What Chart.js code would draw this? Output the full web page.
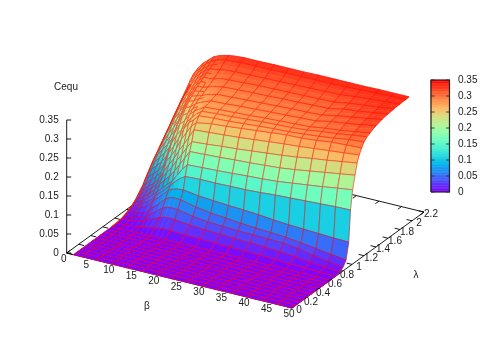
<!DOCTYPE html>
<html>
<head>
<meta charset="utf-8">
<title>Cequ</title>
<script src="https://cdn.jsdelivr.net/npm/chart.js@4"></script>
<style>
  html, body { margin: 0; padding: 0; background: #fff; }
  canvas { display: block; }
</style>
</head>
<body>
<canvas id="mycanvas" width="491" height="343"></canvas>
<script>
var betaTicks = [0, 5, 10, 15, 20, 25, 30, 35, 40, 45, 50];
var lambdaTicks = [0, 0.2, 0.4, 0.6, 0.8, 1, 1.2, 1.4, 1.6, 1.8, 2, 2.2];
var cTicks = [0, 0.05, 0.1, 0.15, 0.2, 0.25, 0.3, 0.35];

var betas = [1.5, 2.22, 3.33, 4.44, 5.56, 6.67, 7.78, 8.89, 10, 11.11, 12.22, 13.33,
  16.67, 20, 23.33, 26.67, 30, 33.33, 36.67, 40, 43.33, 46.67, 50];
var lambdas = [0, 0.064, 0.128, 0.192, 0.256, 0.32, 0.384, 0.448, 0.512, 0.576, 0.64,
  0.72, 0.8, 0.85, 0.9, 0.945, 0.975, 1.01, 1.05, 1.085, 1.12, 1.16, 1.2, 1.25, 1.3,
  1.35, 1.4, 1.45, 1.5, 1.55, 1.6, 1.65, 1.7, 1.75, 1.8, 1.85, 1.9, 1.95];

// every row starts with the flat part below lambda 0.72
var flat = [0, 0, 0, 0, 0, 0, 0, 0, 0, 0, 0];
var c1 = [...flat, .001,.003,.006,.01,.014,.017,.022,.028,.035,.042,.05,.062,.075,.088,.1,.11,.122,.133,.144,.155,.167,.178,.189,.199,.208,.217,.225];
var c2 = [...flat, .001,.003,.006,.011,.015,.019,.024,.031,.038,.046,.056,.069,.083,.097,.11,.122,.136,.15,.162,.174,.186,.198,.21,.222,.233,.245,.255];
var c3 = [...flat, .001,.004,.007,.013,.02,.026,.032,.04,.049,.058,.069,.081,.096,.112,.127,.142,.157,.172,.186,.2,.214,.227,.239,.25,.259,.268,.275];
var c4 = [...flat, .002,.005,.009,.016,.026,.034,.041,.05,.06,.068,.081,.094,.11,.127,.144,.16,.177,.192,.207,.221,.235,.247,.258,.267,.275,.283,.29];
var c5 = [...flat, .002,.007,.012,.02,.033,.043,.052,.062,.072,.083,.096,.11,.128,.146,.164,.182,.199,.215,.229,.242,.254,.264,.273,.281,.288,.295,.301];
var c6 = [...flat, .005,.013,.021,.033,.05,.058,.065,.08,.092,.106,.128,.145,.166,.186,.204,.219,.232,.244,.254,.263,.271,.278,.285,.292,.298,.305,.312];
var c7 = [...flat, .008,.02,.03,.043,.06,.07,.078,.094,.11,.127,.146,.166,.19,.212,.23,.244,.255,.263,.271,.278,.284,.29,.296,.301,.306,.312,.318];
var c8 = [...flat, .01,.025,.04,.056,.072,.082,.09,.108,.127,.146,.167,.19,.207,.225,.238,.25,.26,.267,.273,.278,.285,.29,.296,.302,.309,.316,.322];
var c9 = [...flat, .012,.03,.05,.068,.085,.095,.103,.125,.148,.17,.195,.217,.23,.244,.254,.261,.268,.271,.276,.282,.286,.292,.298,.304,.312,.319,.325];
var c10 = [...flat, .014,.034,.055,.075,.092,.108,.122,.145,.167,.19,.215,.237,.245,.257,.263,.268,.274,.277,.281,.287,.29,.296,.301,.307,.313,.319,.327];
var c11 = [...flat, .015,.035,.056,.076,.095,.12,.14,.165,.188,.212,.236,.248,.258,.265,.269,.273,.278,.28,.284,.289,.292,.298,.303,.308,.313,.32,.328];
var c12 = [...flat, .015,.034,.055,.075,.096,.128,.155,.185,.207,.234,.248,.262,.268,.273,.276,.278,.282,.284,.287,.292,.294,.299,.304,.309,.314,.321,.329];
var c13 = [...flat, .013,.03,.047,.066,.09,.13,.157,.187,.21,.237,.255,.265,.271,.276,.278,.28,.284,.286,.289,.294,.296,.301,.306,.31,.315,.322,.329];
var c14 = [...flat, .012,.027,.042,.06,.087,.13,.159,.189,.214,.24,.258,.267,.273,.278,.28,.283,.287,.288,.291,.296,.298,.303,.307,.311,.316,.322,.33];
var c15 = [...flat, .011,.025,.04,.056,.084,.131,.161,.192,.217,.243,.262,.27,.276,.28,.282,.285,.289,.29,.293,.297,.299,.304,.308,.312,.317,.323,.33];
var c16 = [...flat, .01,.023,.038,.052,.082,.132,.164,.194,.221,.247,.266,.273,.279,.283,.285,.287,.291,.292,.295,.299,.301,.305,.309,.313,.317,.323,.33];
var c17 = [...flat, .009,.022,.037,.049,.079,.134,.166,.197,.225,.251,.27,.276,.281,.285,.287,.289,.293,.294,.296,.3,.302,.306,.31,.314,.318,.324,.331];
var c18 = [...flat, .008,.02,.036,.047,.075,.137,.169,.2,.229,.255,.274,.278,.283,.287,.289,.291,.294,.295,.298,.302,.303,.307,.311,.315,.319,.324,.331];
var c19 = [...flat, .006,.018,.035,.044,.072,.139,.174,.205,.234,.258,.275,.281,.286,.289,.291,.293,.296,.297,.299,.303,.304,.308,.312,.316,.32,.325,.331];
var c20 = [...flat, .004,.014,.03,.039,.07,.141,.179,.211,.24,.262,.279,.285,.292,.295,.298,.301,.304,.305,.307,.311,.312,.315,.318,.321,.324,.327,.331];
var c21 = [...flat, .003,.01,.022,.034,.068,.143,.184,.217,.245,.266,.284,.29,.296,.299,.303,.306,.309,.311,.313,.315,.316,.319,.321,.324,.326,.328,.332];
var c22 = [...flat, .002,.006,.015,.028,.066,.145,.19,.223,.251,.27,.286,.296,.302,.305,.309,.312,.315,.317,.319,.321,.322,.324,.325,.327,.328,.33,.332];
var c23 = [...flat, .001,.003,.01,.023,.065,.146,.195,.229,.257,.274,.288,.299,.307,.311,.316,.319,.322,.324,.326,.327,.328,.329,.33,.33,.331,.331,.332];
var cequ = [c1, c2, c3, c4, c5, c6, c7, c8, c9, c10, c11, c12, c13, c14, c15, c16, c17, c18, c19, c20, c21, c22, c23];

// view of the box on the page
var originX = 66.7, originY = 253, zScale = 380;
var betaDx = 4.506, betaDy = 1.1, lambdaDx = 60, lambdaDy = -43.6;
var barLeft = 431, barRight = 449.5;

function proj(b, l, z) {
  return {
    x: originX + betaDx * b + lambdaDx * l,
    y: (z || 0) - (betaDy * b + lambdaDy * l) / zScale
  };
}

// gnuplot palette rgbformulae 33,13,10
function palette(v) {
  var t = Math.max(0, Math.min(1, v / 0.35));
  var r = Math.min(1, Math.abs(2 * t - 0.5));
  var g = Math.sin(Math.PI * t);
  var b = Math.cos(Math.PI * t / 2);
  return "rgb(" + Math.round(r * 255) + "," + Math.round(g * 255) + "," + Math.round(b * 255) + ")";
}

var meshColor = "rgba(255,0,0,0.62)";
var flatMeshColor = "rgba(255,0,40,0.85)";
var coarseLambda = [1.4, 1.5, 1.6, 1.7, 1.8, 1.9];

function inDensePatch(b, l) {
  return l >= 1.0 && b * l <= 14.6;
}
function betaLineOn(i, j) {
  if (i === 0 || i >= 11 || i % 3 === 2) return true;
  return inDensePatch(betas[i], lambdas[j]);
}
function lambdaLineOn(i, j) {
  var l = lambdas[j];
  if (l <= 1.3 || l === 1.95 || coarseLambda.indexOf(l) >= 0) return true;
  return inDensePatch(betas[i], l);
}

function corners(i, j) {
  return [
    proj(betas[i], lambdas[j], cequ[i][j]),
    proj(betas[i + 1], lambdas[j], cequ[i + 1][j]),
    proj(betas[i + 1], lambdas[j + 1], cequ[i + 1][j + 1]),
    proj(betas[i], lambdas[j + 1], cequ[i][j + 1]),
    proj(betas[i], lambdas[j], cequ[i][j])
  ];
}

function cellFill(i, j) {
  var mean = (cequ[i][j] + cequ[i + 1][j] + cequ[i][j + 1] + cequ[i + 1][j + 1]) / 4;
  var col = palette(mean);
  return {
    data: corners(i, j),
    showLine: true,
    fill: "shape",
    backgroundColor: col,
    borderColor: col,
    borderWidth: 0.6,
    pointRadius: 0,
    clip: false
  };
}

function cellMesh(i, j) {
  var edges = [lambdaLineOn(i, j), betaLineOn(i + 1, j), lambdaLineOn(i, j + 1), betaLineOn(i, j)];
  var on = lambdas[j] < 0.8 ? flatMeshColor : meshColor;
  return {
    data: corners(i, j),
    showLine: true,
    fill: false,
    borderColor: on,
    borderWidth: 0.8,
    pointRadius: 0,
    clip: false,
    segment: {
      borderColor: function(ctx) { return edges[ctx.p0DataIndex] ? on : "rgba(0,0,0,0)"; }
    }
  };
}

function lineSet(points, axisId, width, color) {
  return {
    data: points,
    yAxisID: axisId || "y",
    showLine: true,
    fill: false,
    borderColor: color || "#000",
    borderWidth: width || 0.9,
    pointRadius: 0,
    clip: false
  };
}

var surface = [];
// first dataset is painted last, so the near corner goes first
var edgePoints = [];
lambdas.forEach(function(l, j) {
  if (l >= 0.64) edgePoints.push(proj(betas[0], l, c1[j]));
});
surface.push(lineSet(edgePoints, "y", 1.2, "#ff1a00"));
for (var j = 0; j < lambdas.length - 1; j++) {
  for (var i = betas.length - 2; i >= 0; i--) {
    surface.push(cellMesh(i, j));
    surface.push(cellFill(i, j));
  }
}

var frame = [];
frame.push(lineSet([proj(0, 0), proj(50, 0), proj(50, 2.2), proj(0, 2.2), proj(0, 0)]));
frame.push(lineSet([{ x: originX, y: 0 }, { x: originX, y: 0.35 }]));
cTicks.forEach(function(v) {
  frame.push(lineSet([{ x: originX, y: v }, { x: originX + 4.5, y: v }]));
});
betaTicks.forEach(function(b) {
  frame.push(lineSet([proj(b, 0), proj(b, 0.06)]));
  frame.push(lineSet([proj(b, 2.2), proj(b, 2.14)]));
});
lambdaTicks.forEach(function(l) {
  frame.push(lineSet([proj(50, l), proj(48.8, l)]));
  frame.push(lineSet([proj(0, l), proj(1.2, l)]));
});

// colour box, on its own scale
var bar = [];
bar.push(lineSet([{ x: barLeft, y: 0 }, { x: barRight, y: 0 }, { x: barRight, y: 0.35 }, { x: barLeft, y: 0.35 }, { x: barLeft, y: 0 }], "cb", 1.2, "#222"));
cTicks.forEach(function(v) {
  bar.push(lineSet([{ x: barLeft, y: v }, { x: barLeft + 3.5, y: v }], "cb", 0.9, "#333"));
  bar.push(lineSet([{ x: barRight - 3.5, y: v }, { x: barRight, y: v }], "cb", 0.9, "#333"));
});
for (var k = 0; k < 70; k++) {
  var lo = k * 0.005, hi = (k + 1) * 0.005, col = palette(lo + 0.0025);
  bar.push({
    data: [{ x: barLeft, y: lo }, { x: barRight, y: lo }, { x: barRight, y: hi }, { x: barLeft, y: hi }, { x: barLeft, y: lo }],
    yAxisID: "cb",
    showLine: true,
    fill: "shape",
    backgroundColor: col,
    borderColor: col,
    borderWidth: 0.5,
    pointRadius: 0,
    clip: false
  });
}

var textPlugin = {
  id: "boxLabels",
  afterDraw: function(chart) {
    var ctx = chart.ctx, sx = chart.scales.x, sy = chart.scales.y;
    function put(p, dx, dy, text) {
      ctx.fillText(text, sx.getPixelForValue(p.x) + dx, sy.getPixelForValue(p.y) + dy);
    }
    ctx.save();
    ctx.font = "10px 'Liberation Sans'";
    ctx.fillStyle = "#1a1a1a";
    ctx.textAlign = "center";
    ctx.textBaseline = "middle";
    betaTicks.forEach(function(b) { put(proj(b, 0), -3, 6.5, String(b)); });
    lambdaTicks.forEach(function(l) { put(proj(50, l), 7, 2.6, String(l)); });
    ctx.fillText("β", 147, 306);
    ctx.fillText("λ", 416, 275);
    ctx.fillText("Cequ", 66, 87);
    ctx.restore();
  }
};

function fixedTicks(scale) {
  scale.ticks = cTicks.map(function(v) { return { value: v }; });
}

function fitWidth(w) {
  return function(s) {
    s.width = w;
    s.paddingTop = 0;
    s.paddingBottom = 0;
  };
}

var LineGraph = new Chart(document.getElementById("mycanvas"), {
  type: "scatter",
  data: { datasets: bar.concat(surface, frame) },
  plugins: [textPlugin],
  options: {
    responsive: false,
    animation: false,
    events: [],
    layout: { padding: 0, autoPadding: false },
    plugins: { legend: { display: false }, tooltip: { enabled: false }, title: { display: false } },
    scales: {
      x: { type: "linear", display: false, min: originX, max: 450 },
      y: {
        type: "linear",
        position: "left",
        min: (originY - 343) / zScale,
        max: originY / zScale,
        grid: { display: false },
        border: { display: false },
        afterBuildTicks: fixedTicks,
        afterFit: fitWidth(originX),
        ticks: {
          autoSkip: false,
          padding: 0,
          color: "#1a1a1a",
          font: { family: "'Liberation Sans'", size: 10 },
          callback: function(v) { return String(v); }
        }
      },
      cb: {
        type: "linear",
        position: "right",
        min: (192 - 343) / 320,
        max: 192 / 320,
        grid: { display: false },
        border: { display: false },
        afterBuildTicks: fixedTicks,
        afterFit: fitWidth(41),
        ticks: {
          autoSkip: false,
          padding: 0,
          color: "#1a1a1a",
          font: { family: "'Liberation Sans'", size: 10 },
          callback: function(v) { return String(v); }
        }
      }
    }
  }
});
</script>
</body>
</html>
